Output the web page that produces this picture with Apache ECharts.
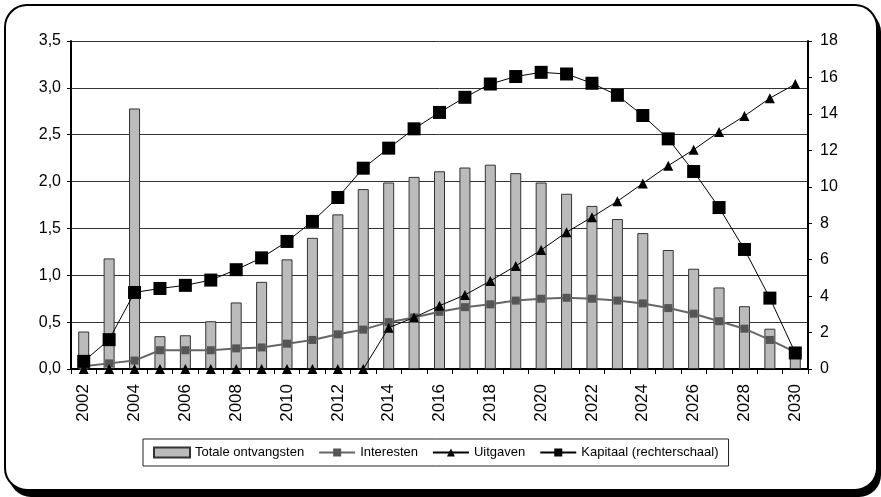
<!DOCTYPE html>
<html>
<head>
<meta charset="utf-8">
<script src="https://cdn.jsdelivr.net/npm/echarts@6/dist/echarts.min.js"></script>
<style>
  html, body { margin: 0; padding: 0; background: #fff; }
  #chart { width: 881px; height: 497px; }
</style>
</head>
<body>
<div id="chart"></div>
<script>
// Jaren op de horizontale as
const years = ['2002','2003','2004','2005','2006','2007','2008','2009','2010','2011',
  '2012','2013','2014','2015','2016','2017','2018','2019','2020','2021','2022','2023',
  '2024','2025','2026','2027','2028','2029','2030'];

// Linkerschaal
const ontvangsten = [0.40, 1.18, 2.78, 0.35, 0.36, 0.51, 0.71, 0.93, 1.17, 1.40,
  1.65, 1.92, 1.99, 2.05, 2.11, 2.15, 2.18, 2.09, 1.99, 1.87, 1.74, 1.60,
  1.45, 1.27, 1.07, 0.87, 0.67, 0.43, 0.18];
const interesten = [0.03, 0.06, 0.09, 0.20, 0.20, 0.20, 0.22, 0.23, 0.27, 0.31,
  0.37, 0.42, 0.50, 0.55, 0.61, 0.66, 0.69, 0.73, 0.75, 0.76, 0.75, 0.73,
  0.70, 0.65, 0.59, 0.51, 0.43, 0.31, 0.18];
const uitgaven = [0, 0, 0, 0, 0, 0, 0, 0, 0, 0, 0, 0,
  0.44, 0.55, 0.675, 0.79, 0.94, 1.10, 1.27, 1.46, 1.62, 1.79,
  1.98, 2.17, 2.34, 2.53, 2.70, 2.89, 3.04];

// Rechterschaal
const kapitaal = [0.42, 1.61, 4.20, 4.42, 4.59, 4.88, 5.45, 6.10, 7.00, 8.10,
  9.41, 11.02, 12.12, 13.18, 14.08, 14.91, 15.64, 16.05, 16.28, 16.19, 15.68, 15.02,
  13.91, 12.63, 10.84, 8.86, 6.56, 3.89, 0.88];

// Schaalverdeling
const leftAxis = { min: 0, max: 3.5, step: 0.5 };
const rightAxis = { min: 0, max: 18, step: 2 };

const seriesNames = ['Totale ontvangsten', 'Interesten', 'Uitgaven', 'Kapitaal (rechterschaal)'];

const FONT = 'Liberation Sans, Arial, sans-serif';

const chart = echarts.init(document.getElementById('chart'), null, { renderer: 'canvas' });

chart.setOption({
  backgroundColor: '#fff',
  animation: false,
  graphic: [
    {
      type: 'rect', z: -20, silent: true,
      shape: { x: 9, y: 10, width: 872, height: 487, r: 22 },
      style: { fill: '#000' }
    },
    {
      type: 'rect', z: -10, silent: true,
      shape: { x: 5, y: 5, width: 872, height: 485, r: 22 },
      style: { fill: '#fff', stroke: '#000', lineWidth: 2 }
    }
  ],
  grid: { left: 71, right: 73, top: 41, bottom: 128 },
  legend: {
    left: 143, top: 439,
    padding: [7, 10],
    itemGap: 14,
    itemWidth: 36,
    itemHeight: 10,
    borderColor: '#222',
    borderWidth: 1,
    backgroundColor: '#fff',
    textStyle: { fontFamily: FONT, fontSize: 13, color: '#000' },
    data: [
      { name: seriesNames[0], icon: 'rect' },
      seriesNames[1], seriesNames[2], seriesNames[3]
    ]
  },
  xAxis: {
    type: 'category',
    data: years,
    boundaryGap: true,
    axisLine: { lineStyle: { color: '#000', width: 2 } },
    axisTick: { show: true, interval: 0, length: 5, lineStyle: { color: '#000', width: 1 } },
    axisLabel: {
      interval: 1, rotate: 90, margin: 15,
      fontFamily: FONT, fontSize: 17, color: '#000'
    },
    splitLine: { show: false }
  },
  yAxis: [
    {
      type: 'value',
      min: leftAxis.min, max: leftAxis.max, interval: leftAxis.step,
      axisLine: { show: true, lineStyle: { color: '#000', width: 2 } },
      axisTick: { show: true, length: 4, lineStyle: { color: '#000' } },
      axisLabel: {
        margin: 10, fontFamily: FONT, fontSize: 16, color: '#000',
        formatter: v => v.toFixed(1).replace('.', ',')
      },
      splitLine: { show: true, lineStyle: { color: '#333', width: 1 } }
    },
    {
      type: 'value',
      min: rightAxis.min, max: rightAxis.max, interval: rightAxis.step,
      axisLine: { show: true, lineStyle: { color: '#000', width: 2 } },
      axisTick: { show: true, length: 4, lineStyle: { color: '#000' } },
      axisLabel: { margin: 12, fontFamily: FONT, fontSize: 16, color: '#000' },
      splitLine: { show: false }
    }
  ],
  series: [
    {
      name: seriesNames[0],
      type: 'bar',
      yAxisIndex: 0,
      data: ontvangsten,
      barWidth: 11,
      itemStyle: { color: '#bbbbbb', borderColor: '#333', borderWidth: 1 },
      z: 1
    },
    {
      name: seriesNames[1],
      type: 'line',
      yAxisIndex: 0,
      data: interesten,
      symbol: 'rect',
      symbolSize: 8,
      lineStyle: { color: '#666', width: 2 },
      itemStyle: { color: '#555' },
      z: 3
    },
    {
      name: seriesNames[2],
      type: 'line',
      yAxisIndex: 0,
      data: uitgaven,
      symbol: 'triangle',
      symbolSize: 10,
      lineStyle: { color: '#000', width: 1 },
      itemStyle: { color: '#000' },
      z: 4
    },
    {
      name: seriesNames[3],
      type: 'line',
      yAxisIndex: 1,
      data: kapitaal,
      symbol: 'rect',
      symbolSize: 13,
      lineStyle: { color: '#000', width: 1 },
      itemStyle: { color: '#000' },
      z: 5
    }
  ]
});
</script>
</body>
</html>
